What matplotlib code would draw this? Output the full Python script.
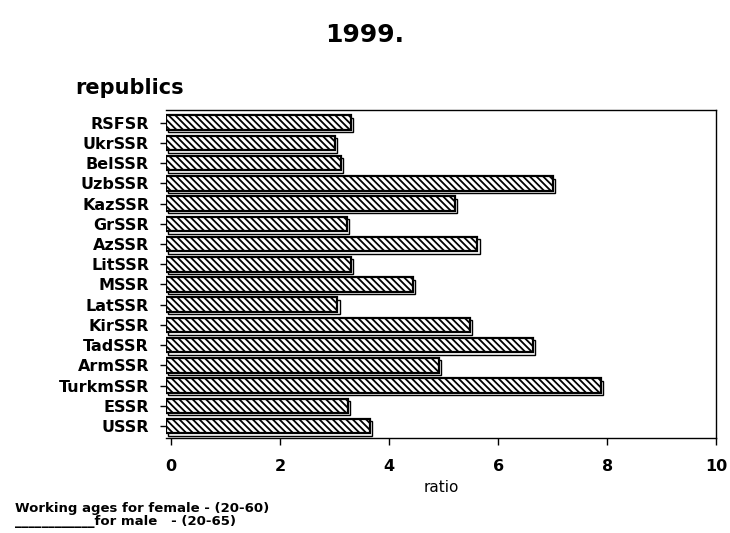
import matplotlib
matplotlib.use("Agg")
import matplotlib.pyplot as plt

# ratio by republic, 1999
republics = ["RSFSR", "UkrSSR", "BelSSR", "UzbSSR", "KazSSR", "GrSSR", "AzSSR", "LitSSR",
             "MSSR", "LatSSR", "KirSSR", "TadSSR", "ArmSSR", "TurkmSSR", "ESSR", "USSR"]
ratio = [3.30, 3.00, 3.12, 7.00, 5.21, 3.22, 5.62, 3.30,
         4.43, 3.05, 5.48, 6.64, 4.91, 7.89, 3.24, 3.64]
xticks = [0, 2, 4, 6, 8, 10]

plt.rcParams['font.family'] = ['DejaVu Sans']
plt.rcParams['hatch.linewidth'] = 1.3

fig = plt.figure(figsize=(7.3, 5.33), dpi=100)
ax = fig.add_axes([0.227, 0.178, 0.754, 0.616])

x0 = -0.1
pos = list(range(len(republics)))
# shadow behind each bar
ax.barh([p + 0.12 for p in pos], [r - x0 for r in ratio], left=x0 + 0.04, height=0.72,
        color='white', edgecolor='black', linewidth=1.0, zorder=2)
ax.barh(pos, [r - x0 for r in ratio], left=x0, height=0.72,
        color='white', edgecolor='black', hatch='\\\\\\\\\\', linewidth=1.6, zorder=3)

ax.set_xlim(x0, 10)
ax.set_ylim(15.6, -0.64)
ax.set_xticks(xticks)
ax.set_xticklabels([str(t) for t in xticks], fontsize=11.5, fontweight='bold')
ax.set_yticks(pos)
ax.set_yticklabels(republics, fontsize=11.5, fontweight='bold')
ax.tick_params(axis='y', length=4, pad=8, width=1)
ax.tick_params(axis='x', length=5, pad=10, width=1)
ax.spines['left'].set_visible(False)
for s in ['top', 'right', 'bottom']:
    ax.spines[s].set_linewidth(1.0)
ax.set_xlabel('ratio', fontsize=11, labelpad=4)

fig.text(0.5, 0.934, '1999.', ha='center', va='center', fontsize=18, fontweight='bold')
fig.text(0.103, 0.835, 'republics', ha='left', va='center', fontsize=15, fontweight='bold')
fig.text(0.02, 0.033, 'Working ages for female - (20-60)\n____________for male   - (20-65)',
         ha='left', va='center', fontsize=9.5, fontweight='bold', linespacing=1.0)

plt.savefig('out.png', dpi=100)
